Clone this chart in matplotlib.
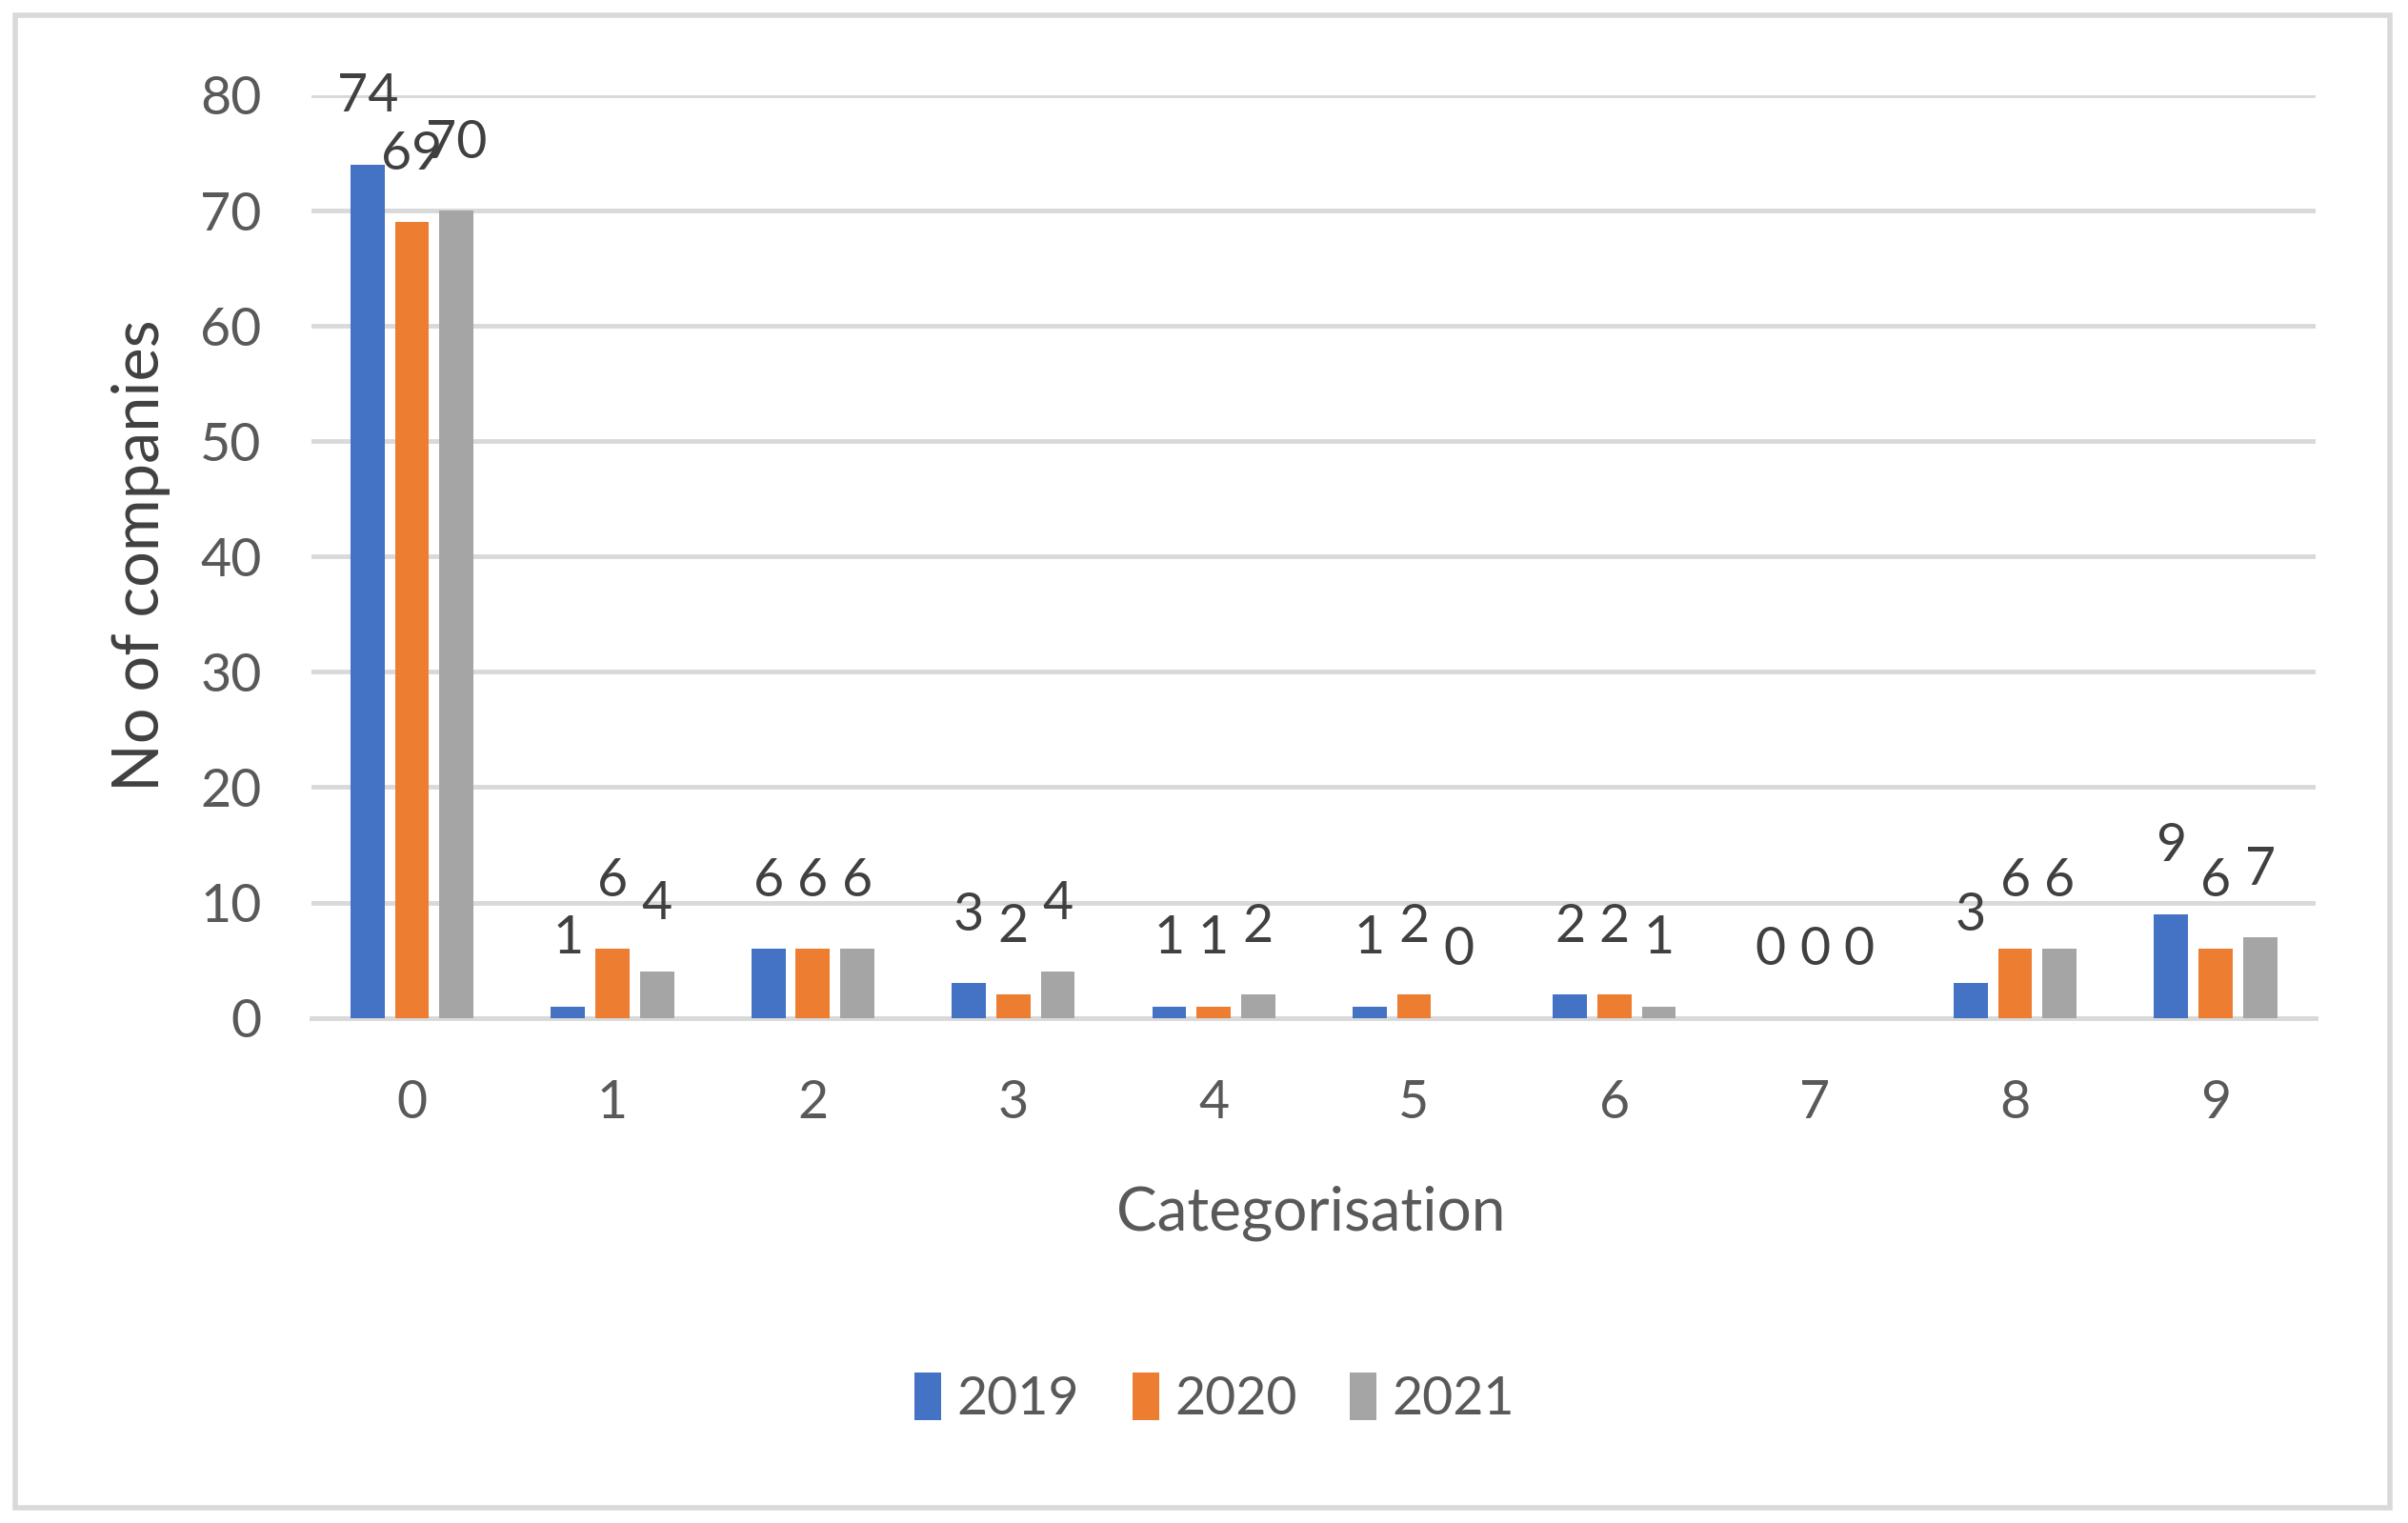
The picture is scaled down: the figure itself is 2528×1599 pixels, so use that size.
import matplotlib
matplotlib.use("Agg")
import matplotlib.pyplot as plt
from matplotlib.patches import Rectangle
import numpy as np

categories = ["0", "1", "2", "3", "4", "5", "6", "7", "8", "9"]
years = ["2019", "2020", "2021"]
v2019 = [74, 1, 6, 3, 1, 1, 2, 0, 3, 9]
v2020 = [69, 6, 6, 2, 1, 2, 2, 0, 6, 6]
v2021 = [70, 4, 6, 4, 2, 0, 1, 0, 6, 7]
series = [v2019, v2020, v2021]
colors = ["#4472C4", "#ED7D31", "#A5A5A5"]
yticks = [0, 10, 20, 30, 40, 50, 60, 70, 80]

plt.rcParams['font.family'] = ['Lato', 'DejaVu Sans']
txt = "#595959"

fig = plt.figure(figsize=(25.28, 15.99), dpi=100)
ax = fig.add_axes([0.1295, 0.3317, 0.8322, 0.6058])

x = np.arange(len(categories))
width = 0.17
offs = [-0.222, 0.0, 0.222]
for s, c, o, yr in zip(series, colors, offs, years):
    ax.bar(x + o, s, width, color=c, label=yr, zorder=3)
    for xi, v in zip(x + o, s):
        ax.annotate(str(v), (xi, v), xytext=(0, 51), textcoords="offset points",
                    ha="center", va="center", fontsize=40, color="#404040", zorder=4)

ax.set_xlim(-0.5, 9.5)
ax.set_ylim(0, 80)
ax.set_yticks(yticks)
ax.set_xticks(x)
ax.set_xticklabels(categories)
ax.yaxis.grid(True, color="#D9D9D9", linewidth=3.5, zorder=0)
ax.set_axisbelow(True)
for sp in ["top", "right", "left"]:
    ax.spines[sp].set_visible(False)
ax.spines["bottom"].set_color("#D9D9D9")
ax.spines["bottom"].set_linewidth(3.5)
ax.tick_params(axis="both", length=0, labelsize=40, labelcolor=txt)
ax.tick_params(axis="y", pad=38)
ax.tick_params(axis="x", pad=46)

fig.text(0.0587, 0.635, "No of companies", rotation=90, ha="center", va="center",
         fontsize=48, color="#404040")
fig.text(0.5445, 0.2036, "Categorisation", ha="center", va="center",
         fontsize=46, color=txt)

fig.legend(loc="center", bbox_to_anchor=(0.5045, 0.0817), ncol=3, frameon=False,
           fontsize=40, handlelength=0.5, handleheight=1.0, handletextpad=0.3,
           columnspacing=1.0, labelcolor=txt)

fig.patches.append(Rectangle((0.0064, 0.010), 0.9859, 0.98, transform=fig.transFigure,
                             fill=False, edgecolor="#D9D9D9", linewidth=4))

fig.savefig("out.png", dpi=100, facecolor="white")
